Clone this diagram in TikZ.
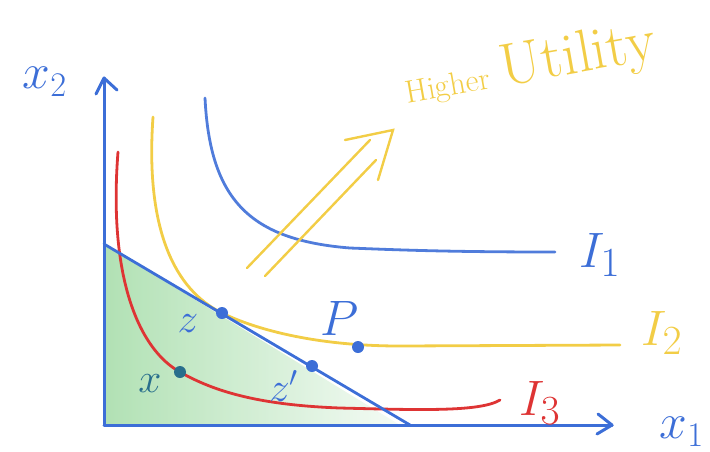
\documentclass[tikz,border=0pt]{standalone}
\usepackage{tikz}
\usetikzlibrary{arrows.meta}
\definecolor{ablue}{RGB}{60,110,215}
\definecolor{ayellow}{RGB}{242,205,70}
\definecolor{ared}{RGB}{222,52,52}
\definecolor{agreen}{RGB}{125,205,130}
\definecolor{dteal}{RGB}{40,110,140}
\tikzset{
  axisline/.style={ablue, line width=1.5pt, line cap=round, line join=round},
  curve/.style={line width=1.4pt, line cap=round},
  pointdot/.style={circle, fill=ablue, inner sep=0pt, minimum size=6pt},
  lbl/.style={inner sep=1pt},
}
\begin{document}
\begin{tikzpicture}[x=0.5pt,y=-0.5pt]
\useasboundingbox (0,0) rectangle (710,451);
% shaded budget set
\shade[left color=agreen!75, right color=agreen!10, opacity=0.8] (104,244) -- (104,425) -- (400,425) -- cycle;
% axes
\coordinate (O) at (104,425);
\coordinate (Ytop) at (104,78);
\coordinate (Xend) at (612,425);
\draw[axisline] (O) -- (Ytop);
\draw[axisline] (96,94) -- (Ytop) -- (117,90);
\draw[axisline] (O) -- (Xend);
\draw[axisline] (598,414) -- (Xend) -- (597,434);
\node[lbl, ablue] (x2) at (45,82) {\fontsize{26}{28}\selectfont $x_2$};
\node[lbl, ablue] (x1) at (682,432) {\fontsize{26}{28}\selectfont $x_1$};
% indifference curves
\draw[curve, ared] (118,152) .. controls (108,280) and (140,350) .. (180,372)
   .. controls (215,392) and (260,405) .. (340,408) .. controls (420,410) and (480,412) .. (500,400);
\draw[curve, ayellow] (153,117) .. controls (145,230) and (175,290) .. (222,313)
   .. controls (259,331) and (320,346) .. (400,346) -- (620,345);
\draw[curve, ablue!90] (205,98) .. controls (210,200) and (250,240) .. (350,248)
   .. controls (400,250) and (450,252) .. (555,252);
% budget line
\coordinate (B1) at (104,244);
\coordinate (B2) at (410,425);
\draw[curve, ablue] (B1) -- (B2);
% labels of curves
\node[lbl, ablue] (I1) at (600,255) {\fontsize{30}{30}\selectfont $I_1$};
\node[lbl, ayellow] (I2) at (662,333) {\fontsize{30}{30}\selectfont $I_2$};
\node[lbl, ared] (I3) at (540,403) {\fontsize{30}{30}\selectfont $I_3$};
% points
\node[pointdot] (z) at (222,313) {};
\node[pointdot] (zp) at (312,366) {};
\node[pointdot, fill=dteal] (x) at (180,372) {};
\node[pointdot] (P) at (358,347) {};
\node[lbl, ablue] (zl) at (188,324) {\fontsize{22}{22}\selectfont $z$};
\node[lbl, ablue] (zpl) at (284,386) {\fontsize{22}{22}\selectfont $z'$};
\node[lbl, dteal] (xl) at (150,384) {\fontsize{22}{22}\selectfont $x$};
\node[lbl, ablue] (Pl) at (340,318) {\fontsize{26}{26}\selectfont $P$};
% higher utility arrow
\draw[curve, ayellow, line width=1.2pt] (247,268) -- (370,140);
\draw[curve, ayellow, line width=1.2pt] (265,276) -- (376,160);
\draw[curve, ayellow, line width=1.2pt] (345,140) -- (393,130) -- (378,180);
\node[lbl, ayellow, rotate=10] (hi) at (448,88) {\fontsize{16}{16}\selectfont Higher};
\node[lbl, ayellow, rotate=10] (ut) at (578,58) {\fontsize{30}{30}\selectfont Utility};
\end{tikzpicture}
\end{document}
